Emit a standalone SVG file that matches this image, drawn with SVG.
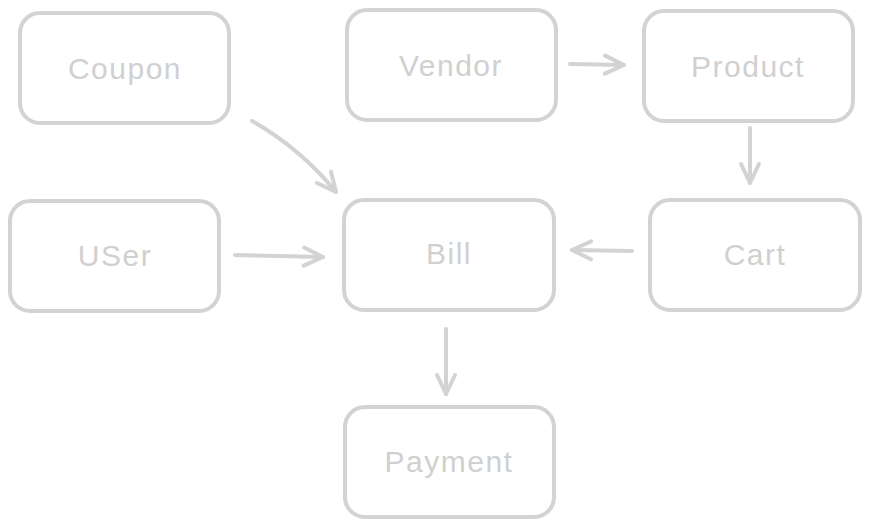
<svg xmlns="http://www.w3.org/2000/svg" width="870" height="527" viewBox="0 0 870 527">
<style>
.box{fill:none;stroke:#d3d3d3;stroke-width:4}
.lbl{font-family:"Liberation Sans",Arial,sans-serif;font-size:30px;fill:#d0d0d0;text-anchor:middle;dominant-baseline:central;letter-spacing:1.5px}
.con{fill:none;stroke:#d3d3d3;stroke-width:4;stroke-linecap:round;marker-end:url(#ah)}
</style>
<defs>
<marker id="ah" viewBox="-24 -12 28 24" refX="0" refY="0" markerWidth="28" markerHeight="24" markerUnits="userSpaceOnUse" orient="auto">
<path d="M-19,-9 L0,0 L-19,9" fill="none" stroke="#d3d3d3" stroke-width="4" stroke-linecap="round" stroke-linejoin="round"/>
</marker>
</defs>
<rect width="870" height="527" fill="#ffffff"/>
<g id="connectors">
<path class="con" d="M252,121 Q300,148 336,192"/>
<path class="con" d="M235,255 L323,257"/>
<path class="con" d="M570,64 L624,65"/>
<path class="con" d="M750,128 L750,183"/>
<path class="con" d="M632,251 L572,250"/>
<path class="con" d="M446,329 L446,394"/>
</g>
<g id="coupon"><rect class="box" x="20" y="13" width="209" height="110" rx="20"/><text class="lbl" x="125" y="68">Coupon</text></g>
<g id="vendor"><rect class="box" x="347" y="10" width="209" height="110" rx="20"/><text class="lbl" x="451" y="65">Vendor</text></g>
<g id="product"><rect class="box" x="644" y="11" width="209" height="110" rx="20"/><text class="lbl" x="748" y="66">Product</text></g>
<g id="user"><rect class="box" x="10" y="201" width="209" height="110" rx="20"/><text class="lbl" x="115" y="255">USer</text></g>
<g id="bill"><rect class="box" x="344" y="200" width="210" height="110" rx="20"/><text class="lbl" x="449" y="253">Bill</text></g>
<g id="cart"><rect class="box" x="650" y="200" width="210" height="110" rx="20"/><text class="lbl" x="755" y="254">Cart</text></g>
<g id="payment"><rect class="box" x="345" y="407" width="209" height="110" rx="20"/><text class="lbl" x="449" y="461">Payment</text></g>
</svg>
